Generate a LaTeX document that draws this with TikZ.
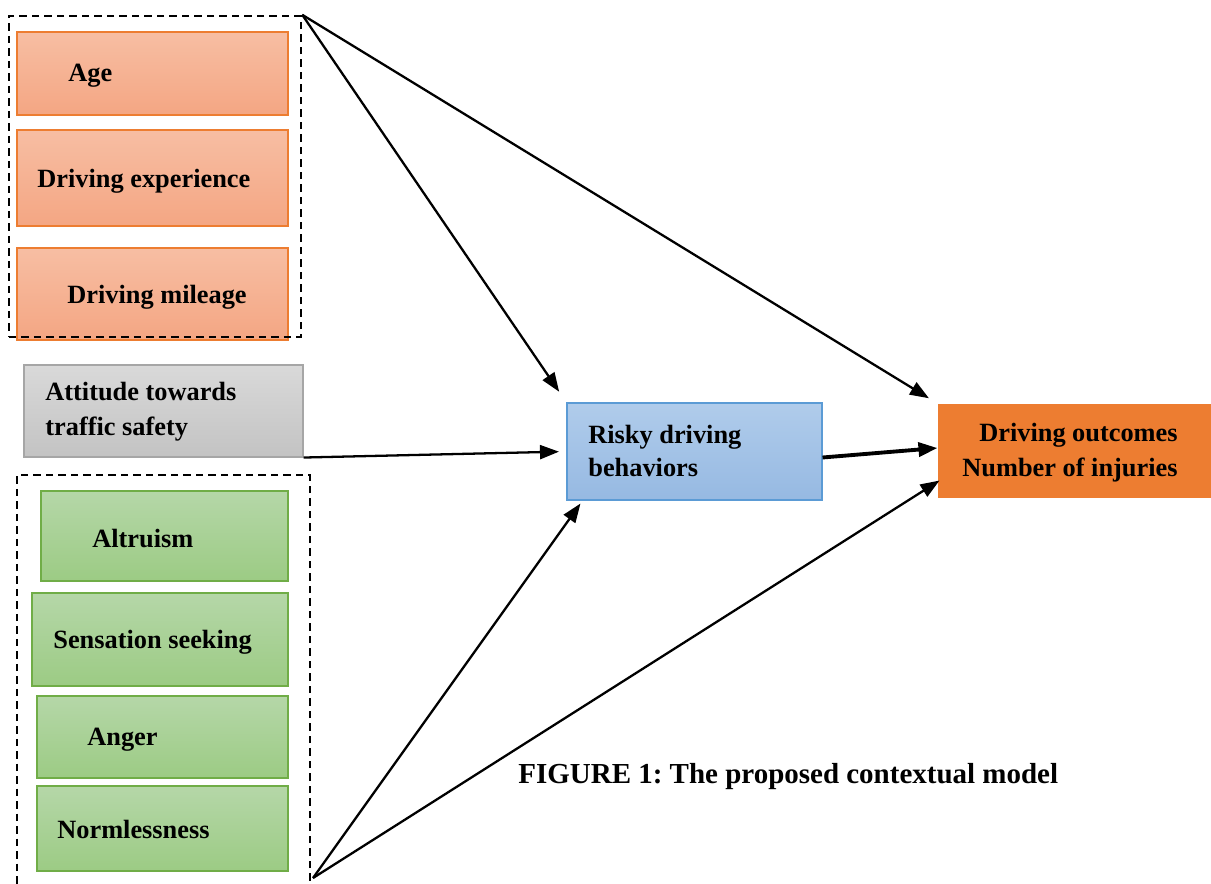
\documentclass[tikz,border=0pt]{standalone}
\usepackage{fontspec}
\setmainfont{Liberation Serif}
\usetikzlibrary{arrows.meta, positioning, fit, calc}
\definecolor{orangetop}{HTML}{F7BEA3}
\definecolor{orangebot}{HTML}{F4A683}
\definecolor{orangeline}{HTML}{ED7D31}
\definecolor{greentop}{HTML}{B5D7A8}
\definecolor{greenbot}{HTML}{9CCB84}
\definecolor{greenline}{HTML}{70AD47}
\definecolor{bluetop}{HTML}{B0CCEB}
\definecolor{bluebot}{HTML}{96B9E2}
\definecolor{blueline}{HTML}{5B9BD5}
\definecolor{greytop}{HTML}{D9D9D9}
\definecolor{greybot}{HTML}{C3C3C3}
\definecolor{greyline}{HTML}{A6A6A6}
\frenchspacing

\begin{document}
\begin{tikzpicture}[x=0.02cm, y=-0.02cm,
        font=\fontsize{15}{19}\selectfont\bfseries,
        box/.style={inner sep=0pt, line width=0.6pt},
        orangebox/.style={box, draw=orangeline, top color=orangetop, bottom color=orangebot},
        greenbox/.style={box, draw=greenline, top color=greentop, bottom color=greenbot},
        greybox/.style={box, draw=greyline, top color=greytop, bottom color=greybot},
        bluebox/.style={box, draw=blueline, top color=bluetop, bottom color=bluebot},
        groupbox/.style={inner sep=0pt, draw, line width=1.4pt, dash pattern=on 0.15cm off 0.1cm},
        lbl/.style={inner sep=0pt, anchor=west, align=left},
        link/.style={line width=1.3pt, -{Triangle[length=0.38cm, width=0.28cm]}}]
    \useasboundingbox (0,0) rectangle (1211,883);

    % personal factors
    \node[orangebox, fit={(17,32) (288,115)}] (age) {};
    \node[orangebox, fit={(17,130) (288,226)}] (exper) {};
    \node[orangebox, fit={(17,248) (288,340)}] (mileage) {};
    \node[lbl] (agetxt) at (68,76) {Age};
    \node[lbl] (expertxt) at (37,181) {Driving experience};
    \node[lbl] (mileagetxt) at (67,297) {Driving mileage};
    \node[groupbox, fit={(9,16) (301,337)}] (grpa) {};

    % attitude
    \node[greybox, fit={(24,365) (303,457)}] (attitude) {};
    \node[lbl, font=\fontsize{15}{20}\selectfont\bfseries] (attitudetxt) at (45,412) {Attitude towards\\traffic safety};

    % personality traits
    \node[greenbox, fit={(41,491) (288,581)}] (altru) {};
    \node[greenbox, fit={(32,593) (288,686)}] (sensation) {};
    \node[greenbox, fit={(37,696) (288,778)}] (anger) {};
    \node[greenbox, fit={(37,786) (288,871)}] (norml) {};
    \node[lbl] (altrutxt) at (92,539) {Altruism};
    \node[lbl] (sensationtxt) at (53,642) {Sensation seeking};
    \node[lbl] (angertxt) at (87,740) {Anger};
    \node[lbl] (normltxt) at (57,829) {Normlessness};
    \node[groupbox, fit={(17,475) (310,900)}] (grpb) {};
    \coordinate (grpbout) at (313,878);

    % behaviour and outcome
    \node[bluebox, fit={(567,403) (822,500)}] (risky) {};
    \node[lbl] (riskytxt) at (588,451) {Risky driving\\behaviors};
    \node[box, fill=orangeline, fit={(938,404) (1211,498)}] (outcome) {};
    \node[inner sep=0pt, align=right, anchor=east, font=\fontsize{15}{20}\selectfont\bfseries] (outcometxt) at (1178,453) {Driving outcomes\\Number of injuries};

    \node[lbl, font=\fontsize{16.5}{20}\selectfont\bfseries] (caption) at (518,777) {FIGURE 1: The proposed contextual model};

    % paths
    \draw[link, shorten >=0.26cm] (grpa.north east) -- (risky.north west);
    \draw[link, shorten >=0.2cm] (grpa.north east) -- (outcome.north west);
    \draw[link, shorten >=0.15cm] (attitude.south east) -- (risky.west);
    \draw[link, line width=2.2pt] ($(risky.east)+(0,6)$) -- ($(outcome.west)+(0,-3)$);
    \draw[link] (grpbout) -- ($(risky.south west)+(14,3)$);
    \draw[link] (grpbout) -- ($(outcome.south west)+(2,-18)$);
\end{tikzpicture}
\end{document}
